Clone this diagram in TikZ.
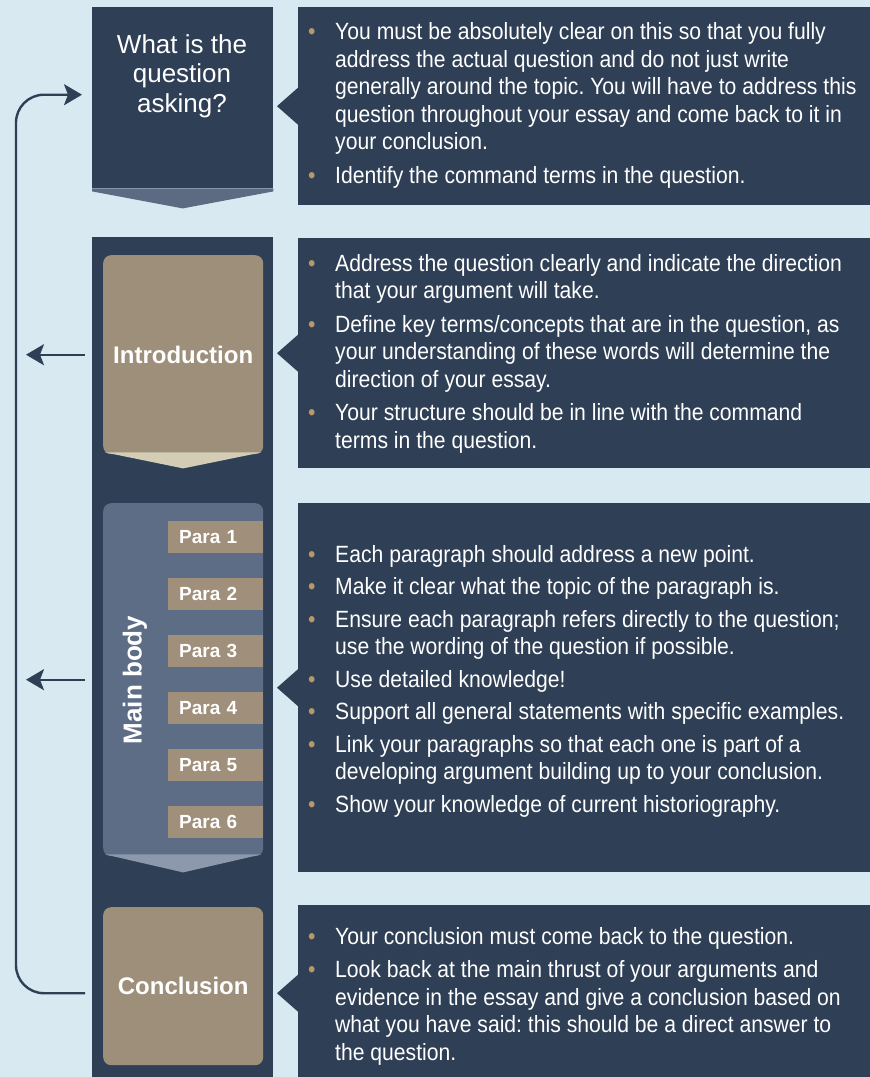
\documentclass[tikz,border=0pt]{standalone}
\usepackage{fontspec}
\setmainfont{Liberation Sans}
\newfontfamily\narrowfont[FakeStretch=0.9]{Liberation Sans}
\usetikzlibrary{arrows.meta,positioning}
\frenchspacing

\definecolor{skyback}{HTML}{D9E9F2}
\definecolor{navy}{HTML}{2F3F56}
\definecolor{introtan}{HTML}{9E8F7B}
\definecolor{paletan}{HTML}{D2CDB4}
\definecolor{paratan}{HTML}{A08F7A}
\definecolor{slate}{HTML}{5D6D85}
\definecolor{paleslate}{HTML}{8C99AC}
\definecolor{midslate}{HTML}{5C6B82}
\definecolor{dotgold}{HTML}{B89868}

\newcommand{\dotitem}{\makebox[27pt][l]{\textcolor{dotgold}{\textbullet}}}
\newcommand{\indentline}{\hspace*{27pt}}

\begin{document}
\begin{tikzpicture}[
  x=1pt, y=-1pt,
  darkbox/.style={
    fill=navy, anchor=north west, inner sep=0pt,
    minimum width=181pt
  },
  panel/.style={
    fill=navy, anchor=north west, inner sep=0pt,
    minimum width=572pt
  },
  tanbox/.style={
    fill=introtan, rounded corners=8pt, anchor=north west, inner sep=0pt,
    minimum width=160pt, text=white,
    font=\bfseries\fontsize{24pt}{28pt}\selectfont
  },
  parabox/.style={
    fill=paratan, anchor=north west, minimum width=95pt, minimum height=32pt,
    text width=73pt, inner xsep=11pt, inner ysep=0pt, align=left,
    text=white, font=\bfseries\fontsize{19pt}{22pt}\selectfont
  },
  pointtext/.style={
    anchor=base west, inner sep=0pt, align=left, text=white,
    font=\narrowfont\fontsize{23.5pt}{27.5pt}\selectfont
  },
  flowline/.style={draw=navy, line width=2.4pt},
  backarrow/.style={flowline, -{Stealth[length=18pt, width=21pt, inset=4pt]}},
]

\def\parasep{57}

\fill[skyback] (0,0) rectangle (870,1077);
\useasboundingbox (0,0) rectangle (870,1077);

% left column
\node[darkbox, minimum height=181pt] (qbox) at (92,7) {};
\fill[midslate] (qbox.south west) -- (qbox.south east) -- ([yshift=-3pt]qbox.south east)
  -- ([yshift=-20pt]qbox.south) -- ([yshift=-3pt]qbox.south west) -- cycle;
\node[anchor=base, align=center, text=white, inner sep=0pt,
  font=\fontsize{26pt}{29.5pt}\selectfont] (qtext) at (182,112)
  {What is the\\question\\asking?};

\node[darkbox, minimum height=850pt] (col) at (92,237) {};

\node[tanbox, minimum height=199pt] (intro) at (103,255) {Introduction};
\fill[paletan] ([shift={(2pt,2pt)}]intro.south west) -- ([shift={(-2pt,2pt)}]intro.south east)
  -- ([yshift=-14pt]intro.south) -- cycle;

\node[tanbox, fill=slate, minimum height=353pt] (body) at (103,503) {};
\fill[paleslate] ([shift={(2pt,2pt)}]body.south west) -- ([shift={(-2pt,2pt)}]body.south east)
  -- ([yshift=-16pt]body.south) -- cycle;
\node[rotate=90, text=white, inner sep=0pt,
  font=\bfseries\fontsize{26pt}{30pt}\selectfont] (bodylabel) at (135,680) {Main body};
\foreach \i in {1,...,6}
  \node[parabox] (p\i) at (168,{521+\parasep*(\i-1)}) {Para \i};

\node[tanbox, minimum height=158pt] (concl) at (103,907) {Conclusion};

% right panels
\node[panel, minimum height=198pt] (tipsq) at (298,7) {};
\node[panel, minimum height=230pt] (tipsintro) at (298,238) {};
\node[panel, minimum height=369pt] (tipsbody) at (298,503) {};
\node[panel, minimum height=176pt] (tipsconcl) at (298,905) {};
\foreach \p in {tipsq,tipsintro,tipsbody,tipsconcl}
  \fill[navy] ([yshift=18.5pt]\p.west) -- ++(-21pt,-18.5pt) -- ++(21pt,-18.5pt) -- cycle;

% text nodes are placed by the baseline of their last line
\node[pointtext] (textq) at (308,183) {%
  \dotitem You must be absolutely clear on this so that you fully\\
  \indentline address the actual question and do not just write\\
  \indentline generally around the topic. You will have to address this\\
  \indentline question throughout your essay and come back to it in\\
  \indentline your conclusion.\\[6pt]
  \dotitem Identify the command terms in the question.};

\node[pointtext] (textintro) at (308,448) {%
  \dotitem Address the question clearly and indicate the direction\\
  \indentline that your argument will take.\\[6pt]
  \dotitem Define key terms/concepts that are in the question, as\\
  \indentline your understanding of these words will determine the\\
  \indentline direction of your essay.\\[6pt]
  \dotitem Your structure should be in line with the command\\
  \indentline terms in the question.};

\node[pointtext] (textbody) at (308,812) {%
  \dotitem Each paragraph should address a new point.\\[5pt]
  \dotitem Make it clear what the topic of the paragraph is.\\[5pt]
  \dotitem Ensure each paragraph refers directly to the question;\\
  \indentline use the wording of the question if possible.\\[5pt]
  \dotitem Use detailed knowledge!\\[5pt]
  \dotitem Support all general statements with specific examples.\\[5pt]
  \dotitem Link your paragraphs so that each one is part of a\\
  \indentline developing argument building up to your conclusion.\\[5pt]
  \dotitem Show your knowledge of current historiography.};

\node[pointtext] (textconcl) at (308,1060) {%
  \dotitem Your conclusion must come back to the question.\\[6pt]
  \dotitem Look back at the main thrust of your arguments and\\
  \indentline evidence in the essay and give a conclusion based on\\
  \indentline what you have said: this should be a direct answer to\\
  \indentline the question.};

% arrows
\coordinate (loopx) at (16,0);
\coordinate (tipx) at (26,0);
\coordinate (loopout) at ([xshift=-7pt]col.west |- tipsconcl.west);
\coordinate (loopin) at ([xshift=-10pt,yshift=3pt]qbox.west);
\draw[backarrow, rounded corners=28pt] (loopout) -- (loopx |- loopout)
  -- (loopx |- loopin) -- (loopin);
\draw[backarrow] ([xshift=-7pt]col.west |- intro.center) -- (tipx |- intro.center);
\draw[backarrow] ([xshift=-7pt]col.west |- body.center) -- (tipx |- body.center);

\end{tikzpicture}
\end{document}
